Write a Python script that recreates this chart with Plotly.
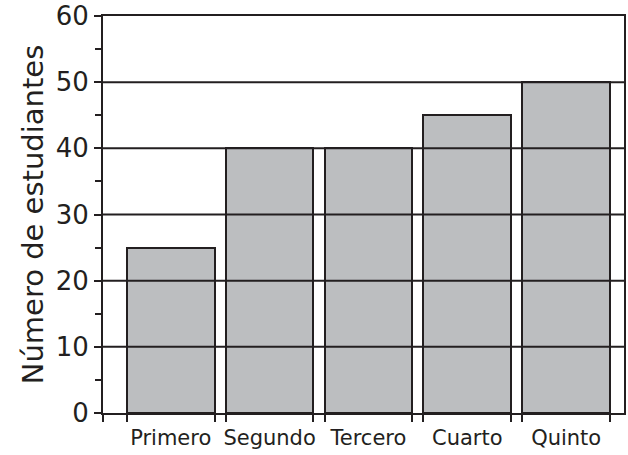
import plotly.graph_objects as go

categories = ["Primero", "Segundo", "Tercero", "Cuarto", "Quinto"]
students = [25, 40, 40, 45, 50]
y_ticks = [0, 10, 20, 30, 40, 50, 60]
y_title = "Número de estudiantes"

line_col = "#231f20"
bar_col = "#bcbec0"
font_fam = "DejaVu Sans"

bar_width = 0.887
x_range = [-0.685, len(categories) - 1 + 0.585]
positions = list(range(len(categories)))
edges = [x_range[0]]
for p in positions:
    edges += [p - bar_width / 2, p + bar_width / 2]

fig = go.Figure()
fig.add_trace(go.Bar(
    x=positions, y=students, width=bar_width,
    marker=dict(color=bar_col, line=dict(color=line_col, width=2)),
    hoverinfo="skip", showlegend=False,
))
fig.add_trace(go.Scatter(
    x=positions, y=students, xaxis="x2", mode="markers",
    marker=dict(opacity=0), showlegend=False, hoverinfo="skip",
))

for v in y_ticks[1:-1]:
    fig.add_shape(type="line", xref="paper", yref="y", x0=0, x1=1, y0=v, y1=v,
                  line=dict(color=line_col, width=2), layer="above")

fig.update_layout(
    width=628, height=455,
    margin=dict(l=103, r=4, t=16, b=42),
    plot_bgcolor="white", paper_bgcolor="white",
    bargap=0,
    xaxis=dict(
        range=x_range, tickmode="array", tickvals=edges, automargin=False,
        ticktext=[""] * len(edges), ticks="outside", ticklen=7, tickwidth=2,
        tickcolor=line_col, showgrid=False, zeroline=False,
        showline=True, linecolor=line_col, linewidth=2, mirror=True,
    ),
    xaxis2=dict(
        range=x_range, overlaying="x", side="bottom", tickmode="array",
        tickvals=positions, ticktext=categories, ticks="", showgrid=False,
        zeroline=False, showline=False, automargin=False, ticklabelstandoff=10,
        tickfont=dict(family=font_fam, size=21, color=line_col),
    ),
    yaxis=dict(
        range=[0, 60], tickmode="array", tickvals=y_ticks, automargin=False,
        ticks="outside", ticklen=7, tickwidth=2, tickcolor=line_col,
        ticklabeloverflow="allow",
        minor=dict(dtick=5, ticks="outside", ticklen=6, tickwidth=2, tickcolor=line_col, showgrid=False),
        showgrid=False, zeroline=False,
        showline=True, linecolor=line_col, linewidth=2, mirror=True,
        tickfont=dict(family=font_fam, size=26, color=line_col),
        title=dict(text=y_title, font=dict(family=font_fam, size=29, color=line_col), standoff=4),
    ),
)

fig.write_html("out.html", config={"displayModeBar": False},
               post_script="document.body.style.margin='0';")
